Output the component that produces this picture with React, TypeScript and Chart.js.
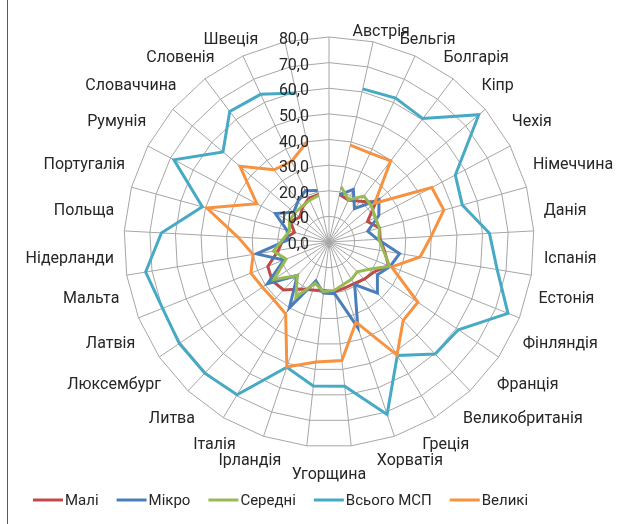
import React, { useEffect, useRef } from 'react';
import { Chart, registerables } from 'chart.js';

Chart.register(...registerables);

const categories = ['', 'Австрія', 'Бельгія', 'Болгарія', 'Кіпр', 'Чехія', 'Німеччина', 'Данія', 'Іспанія', 'Естонія', 'Фінляндія', 'Франція', 'Великобританія', 'Греція', 'Хорватія', 'Угорщина', 'Ірландія', 'Італія', 'Литва', 'Люксембург', 'Латвія', 'Мальта', 'Нідерланди', 'Польща', 'Португалія', 'Румунія', 'Словаччина', 'Словенія', 'Швеція'];

const tickValues = [0, 10, 20, 30, 40, 50, 60, 70, 80];

const maliValues = [null, 19, 18, 20, 24, 17, 20.5, 20, 22, 25, 21, 20, 19, 19, 19.5, 19, 19.8, 21.4, 25.8, 26.8, 25.7, 20, 18, 14, 17, 15, 17, 18.8, 19];
const mikroValues = [null, 18.8, 22.6, 16.4, 25.6, 22, 15.7, 19, 27.9, 25.7, 22.8, 27.5, 19.4, 35.3, 20.3, 20, 16, 30, 18, 29, 19, 28.7, 16, 17, 23.7, 18, 20, 22, 20.6];
const seredniValues = [null, 22.1, 18.2, 22.5, 21.7, 20.5, 20.4, 19.5, 21.6, 25.5, 19, 16, 17, 17.5, 19, 19.5, 17, 25, 18, 26, 18, 22, 18, 16, 17.5, 17.5, 17.4, 18, 18.6];
const vsogoValues = [null, 61.2, 61.9, 60.5, 76.7, 55.8, 54.0, 62.7, 66.5, 75.2, 61.0, 60.2, 51.7, 71.0, 56.6, 56.5, 51.6, 69.6, 70.5, 70.6, 69.9, 72.5, 65.5, 51.3, 68.5, 54.3, 64.0, 63.5, 59.5];
const velykiValues = [null, 38.7, 38.2, 39.8, 23.4, 45.4, 46.5, 39.9, 36.0, 26.3, 41.9, 42.1, 51.5, 33.0, 46.5, 47.1, 51.5, 32.8, 31.2, 31.4, 32.8, 30.0, 35.6, 49.5, 31.9, 45.6, 35.4, 34.7, 40.0];

const seriesNames = ['Малі', 'Мікро', 'Середні', 'Всього МСП', 'Великі'];
const seriesColors = ['#be4b48', '#4a7ebb', '#98b954', '#46aac5', '#f69240'];
const seriesValues = [maliValues, mikroValues, seredniValues, vsogoValues, velykiValues];

const FONT = 'Roboto, "Noto Sans", sans-serif';
const FONT_SIZE = 16;
const LEGEND_FONT_SIZE = 15;
const TEXT_COLOR = '#262626';

const fmt = (v: number) => v.toFixed(1).replace('.', ',');

const excelLabels = {
  id: 'excelLabels',
  afterDatasetsDraw(chart: any) {
    const scale = chart.scales.r;
    const ctx = chart.ctx as CanvasRenderingContext2D;
    const cx = scale.xCenter;
    const cy = scale.yCenter;
    const R = scale.drawingArea;
    ctx.save();
    ctx.font = `${FONT_SIZE}px ${FONT}`;
    ctx.fillStyle = TEXT_COLOR;

    // value axis labels
    ctx.textAlign = 'right';
    ctx.textBaseline = 'middle';
    tickValues.forEach((v) => {
      const y = cy - scale.getDistanceFromCenterForValue(v);
      ctx.fillText(fmt(v), cx - 20, y + 3);
    });

    // category labels
    const names = categories.filter((c) => c !== '');
    const n = names.length;
    const r0 = R + 10;
    names.forEach((name, j) => {
      const a = (2 * Math.PI * j) / n;
      const s = Math.sin(a);
      const c = Math.cos(a);
      const ax = cx + r0 * s;
      const ay = cy - r0 * c;
      let x = ax;
      let y = ay;
      if (j === n / 2) {
        ctx.textAlign = 'center';
        x = cx;
        y = ay + 18;
      } else {
        const right = j < n / 2;
        ctx.textAlign = right ? 'left' : 'right';
        if (c > -0.01) {
          const shift = 23.5 * Math.max(c, 0);
          x = right ? ax + shift : ax - shift;
          y = ay + 5 + 12 * Math.abs(s);
        } else {
          x = ax;
          y = ay + 9;
        }
      }
      ctx.fillText(name, x, y);
    });
    ctx.restore();
  },
  afterDraw(chart: any) {
    const ctx = chart.ctx as CanvasRenderingContext2D;
    ctx.save();
    ctx.font = `${LEGEND_FONT_SIZE}px ${FONT}`;
    ctx.textBaseline = 'middle';
    ctx.textAlign = 'left';
    let x = 33;
    const y = 500;
    seriesNames.forEach((name, i) => {
      ctx.strokeStyle = seriesColors[i];
      ctx.lineWidth = 3;
      ctx.beginPath();
      ctx.moveTo(x, y);
      ctx.lineTo(x + 30, y);
      ctx.stroke();
      ctx.fillStyle = TEXT_COLOR;
      ctx.fillText(name, x + 32, y + 1);
      x += 32 + ctx.measureText(name).width + 18;
    });
    // chart border (left edge)
    ctx.strokeStyle = '#595959';
    ctx.lineWidth = 1;
    ctx.beginPath();
    ctx.moveTo(7.5, 0);
    ctx.lineTo(7.5, chart.height);
    ctx.stroke();
    ctx.restore();
  },
};

export default function App() {
  const ref = useRef<HTMLCanvasElement>(null);
  useEffect(() => {
    if (!ref.current) return;
    Chart.defaults.font.family = FONT;
    const chart = new Chart(ref.current, {
      type: 'radar',
      data: {
        labels: categories,
        datasets: seriesValues.map((vals, i) => ({
          label: seriesNames[i],
          data: vals,
          borderColor: seriesColors[i],
          backgroundColor: seriesColors[i],
          borderWidth: 3,
          pointRadius: 0,
          pointHoverRadius: 0,
          fill: false,
          tension: 0,
          spanGaps: false,
          order: seriesNames.length - i,
        })),
      },
      options: {
        responsive: false,
        animation: false,
        devicePixelRatio: 1,
        layout: { padding: { left: 124, right: 95, top: 37, bottom: 76 } },
        plugins: { legend: { display: false }, tooltip: { enabled: false } },
        scales: {
          r: {
            min: 0,
            max: 80,
            ticks: { display: false, stepSize: 10 },
            pointLabels: { display: false },
            grid: { color: '#a6a6a6', lineWidth: 1, circular: false },
            angleLines: { color: '#a6a6a6', lineWidth: 1 },
          },
        },
      },
      plugins: [excelLabels],
    });
    return () => chart.destroy();
  }, []);
  return (
    <div style={{ position: 'fixed', left: 0, top: 0, width: 630, height: 524, background: '#fff' }}>
      <canvas ref={ref} width={630} height={524} style={{ width: 630, height: 524 }} />
    </div>
  );
}
